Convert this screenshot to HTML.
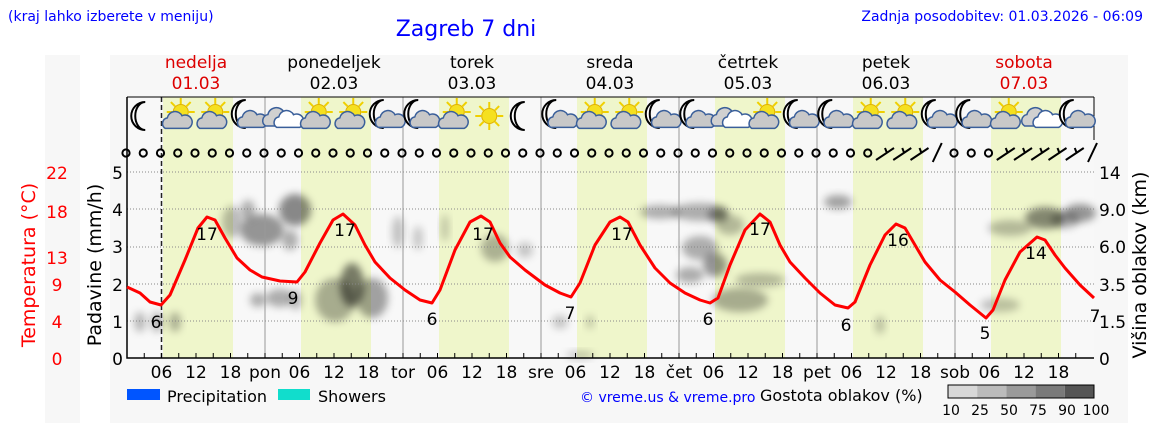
<!DOCTYPE html>
<html><head><meta charset="utf-8"><style>
body{margin:0;width:1152px;height:443px;background:#fff;overflow:hidden;font-family:"DejaVu Sans","Liberation Sans",sans-serif}
svg{position:absolute;left:0;top:0}
</style></head><body>
<svg id="s" width="1152" height="443" xmlns="http://www.w3.org/2000/svg" font-family="DejaVu Sans, Liberation Sans, sans-serif">
<defs><filter id="bl" x="-50%" y="-50%" width="200%" height="200%"><feGaussianBlur stdDeviation="4"/></filter></defs>
<rect x="45" y="55" width="35" height="368" fill="#f7f7f7"/>
<rect x="110" y="55" width="1018" height="368" fill="#f7f7f7"/>
<g id="g"></g>
<text x="8" y="21" font-size="14" fill="#0000ff">(kraj lahko izberete v meniju)</text>
<text x="466" y="36" font-size="22" fill="#0000ff" text-anchor="middle">Zagreb 7 dni</text>
<text x="1143" y="21" font-size="14" fill="#0000ff" text-anchor="end">Zadnja posodobitev: 01.03.2026 - 06:09</text>
<text transform="translate(35,265) rotate(-90)" font-size="19" fill="#ff0000" text-anchor="middle">Temperatura (°C)</text>
<text transform="translate(101,265) rotate(-90)" font-size="19" fill="#000" text-anchor="middle">Padavine (mm/h)</text>
<text transform="translate(1146,265) rotate(-90)" font-size="19" fill="#000" text-anchor="middle">Višina oblakov (km)</text>
<g font-size="17" fill="#ff0000" text-anchor="middle">
<text x="57" y="179">22</text><text x="57" y="218">18</text><text x="57" y="264">13</text><text x="57" y="291">9</text><text x="57" y="328">4</text><text x="57" y="365">0</text></g>
<g font-size="17" fill="#000" text-anchor="end">
<text x="123" y="179">5</text><text x="123" y="216">4</text><text x="123" y="253">3</text><text x="123" y="291">2</text><text x="123" y="328">1</text><text x="123" y="365">0</text></g>
<g font-size="17" fill="#000">
<text x="1099" y="179">14</text><text x="1099" y="216">9.0</text><text x="1099" y="253">6.0</text><text x="1099" y="291">3.5</text><text x="1099" y="328">1.5</text><text x="1099" y="365">0</text></g>
<rect x="127" y="389" width="33" height="11" fill="#0055ff"/>
<text x="167" y="402" font-size="16">Precipitation</text>
<rect x="278" y="389" width="32" height="11" fill="#11ddcc"/>
<text x="318" y="402" font-size="16">Showers</text>
<text x="580" y="402" font-size="14" fill="#0000ff">© vreme.us &amp; vreme.pro</text>
<text x="760" y="401" font-size="16">Gostota oblakov (%)</text>
<g id="leg"></g>
</svg>
<script>
const NS="http://www.w3.org/2000/svg";const g=document.getElementById('g');
function el(t,a,p){const e=document.createElementNS(NS,t);for(const k in a)e.setAttribute(k,a[k]);if(p!==undefined)e.textContent=p;(a._p||g).appendChild(e);return e;}
const X0=127,D=138,T=97,B=358,R=1094;
el('rect',{x:X0,y:T,width:R-X0,height:B-T,fill:'#f8f8f8'});
for(let d=0;d<7;d++){el('rect',{x:X0+d*D+36,y:T,width:70,height:B-T,fill:'#eff6cb'});}
const cl=[[232,222,10,16,.25],[248,210,7,10,.3],[262,230,22,16,.4],[295,210,16,16,.45],[290,240,8,10,.3],[258,300,8,7,.3],[280,298,14,9,.3],[296,300,6,10,.25],[140,322,6,10,.25],[157,322,6,10,.28],[175,322,6,10,.28],[335,300,20,22,.3],[352,285,12,22,.5],[372,298,16,20,.35],[398,232,6,16,.22],[418,238,5,12,.2],[445,228,4,14,.2],[495,248,14,14,.28],[525,250,8,8,.2],[560,322,8,7,.2],[590,322,4,7,.2],[580,355,14,4,.2],[660,212,20,7,.3],[700,212,28,9,.3],[718,215,10,7,.4],[700,248,18,12,.3],[715,265,12,12,.4],[690,275,14,8,.3],[740,300,28,12,.3],[760,280,25,7,.25],[730,225,14,10,.25],[838,202,14,7,.35],[880,325,5,9,.22],[1000,305,20,7,.22],[1010,228,22,8,.25],[1045,218,20,11,.45],[1080,213,16,9,.4],[1065,220,14,8,.3]];
cl.forEach(c=>el('ellipse',{cx:c[0],cy:c[1],rx:c[2],ry:c[3],fill:'#000','fill-opacity':c[4],filter:'url(#bl)'}));
[172,209,247,284,321].forEach(y=>el('line',{x1:X0,x2:R,y1:y,y2:y,stroke:'#888','stroke-dasharray':'1,2','stroke-width':1}));
for(let d=1;d<7;d++)el('line',{x1:X0+d*D,x2:X0+d*D,y1:T,y2:B,stroke:'#999','stroke-width':1});
el('line',{x1:161.5,x2:161.5,y1:T,y2:B,stroke:'#222','stroke-dasharray':'5,3','stroke-width':1.5});
el('path',{d:`M${X0} ${T}V${B}H${R}`,fill:'none',stroke:'#000','stroke-width':1.5});
el('line',{x1:X0,x2:R,y1:T,y2:T,stroke:'#000','stroke-width':1});
el('line',{x1:R,x2:R,y1:T,y2:140,stroke:'#000','stroke-width':1});
for(let k=1;k<56;k++){const x=X0+k*17.25;el('line',{x1:x,x2:x,y1:B,y2:B-5,stroke:'#000'});}
const bl=['','06','12','18'],dn=['','pon','tor','sre','čet','pet','sob'];
for(let d=0;d<7;d++){for(let h=0;h<4;h++){let t=h==0?dn[d]:bl[h];if(!t)continue;el('text',{x:X0+d*D+h*34.5,y:378,'font-size':17,'text-anchor':'middle'},t);}}
const names=['nedelja','ponedeljek','torek','sreda','četrtek','petek','sobota'];
for(let d=0;d<7;d++){const c=(d==0||d==6)?'#dd0000':'#000',x=X0+d*D+69;el('text',{x:x,y:68,'font-size':17,'text-anchor':'middle',fill:c},names[d]);el('text',{x:x,y:89,'font-size':17,'text-anchor':'middle',fill:c},'0'+(d+1)+'.03');}
const tp=[[127,287],[140,293],[150,302],[161,305],[170,295],[185,260],[198,228],[207,217],[215,220],[225,238],[237,258],[250,270],[262,277],[280,281],[297,282],[305,272],[320,243],[333,220],[343,214],[355,225],[365,245],[375,262],[390,278],[405,290],[420,300],[432,303],[440,290],[455,250],[470,222],[481,216],[490,222],[500,243],[510,257],[525,270],[545,285],[560,293],[571,297],[580,283],[595,245],[610,222],[620,217],[628,222],[640,245],[655,268],[670,283],[685,293],[700,300],[710,303],[718,298],[730,265],[745,230],[760,214],[770,222],[780,245],[790,262],[805,278],[820,293],[835,305],[848,308],[855,302],[870,265],[885,235],[896,224],[905,228],[915,245],[925,262],[940,280],[955,292],[970,305],[986,318],[993,310],[1005,280],[1020,252],[1037,237],[1045,240],[1055,255],[1065,268],[1080,285],[1094,298]];
el('path',{d:'M'+tp.map(p=>p.join(' ')).join('L'),fill:'none',stroke:'#ff0000','stroke-width':3,'stroke-linejoin':'round'});
[[156,328,'6'],[207,240,'17'],[293,304,'9'],[345,236,'17'],[432,325,'6'],[483,240,'17'],[570,319,'7'],[622,240,'17'],[708,325,'6'],[760,235,'17'],[846,331,'6'],[898,246,'16'],[985,339,'5'],[1036,259,'14'],[1095,322,'7']].forEach(l=>el('text',{x:l[0],y:l[1],'font-size':17,'text-anchor':'middle'},l[2]));
for(let k=0;k<57;k++){const x=X0+k*17.25-1;
 const isB=(k>=44&&k<=47)||(k>=51);
 if(!isB)el('circle',{cx:x,cy:153,r:3.6,fill:'none',stroke:'#000','stroke-width':2});
 else{const steep=(k==47||k==56);if(steep)el('line',{x1:x-4,y1:162,x2:x+5,y2:143,stroke:'#000','stroke-width':2});else{el('line',{x1:x-9,y1:160,x2:x+9,y2:148,stroke:'#000','stroke-width':2});el('line',{x1:x+2,y1:153,x2:x,y2:148,stroke:'#000','stroke-width':2});}}}
const ic=['m','sc','sc','mc','c','sc','sc','mc','mc','sc','s','m','mc','sc','sc','mc','mc','c','sc','mc','mc','sc','sc','mc','mc','sc','c','mc'];
function cloud(x,y,s,f){el('path',{d:`M${x-11*s} ${y+7*s}a${5.5*s} ${5.5*s} 0 0 1 ${2*s} ${-10*s}a${7.5*s} ${7.5*s} 0 0 1 ${14*s} ${-2*s}a${6.5*s} ${6.5*s} 0 0 1 ${6*s} ${12*s}z`,fill:f,stroke:'#3a5f9a','stroke-width':1.5});}
function moon(x,y){el('path',{d:`M${x+3} ${y-14}a14 14 0 1 0 0 28a10 14 0 1 1 0-28z`,fill:'#fff',stroke:'#000','stroke-width':2});}
function sun(x,y){for(let i=0;i<8;i++){const a=i*Math.PI/4;el('line',{x1:x+Math.cos(a)*8,y1:y+Math.sin(a)*8,x2:x+Math.cos(a)*14,y2:y+Math.sin(a)*14,stroke:'#f0d000','stroke-width':2});}el('circle',{cx:x,cy:y,r:7.5,fill:'#f5e020',stroke:'#e0b000'});}
ic.forEach((t,i)=>{const d=Math.floor(i/4),h=[3,9,15,21][i%4],x=X0+d*D+h*5.75,y=116;
 if(t=='m')moon(x-2,y);
 else if(t=='mc'){moon(x-5,y-2);cloud(x+4,y+4,1.05,'#c8c8c8');}
 else if(t=='s')sun(x,y);
 else if(t=='sc'){sun(x+2,y-4);cloud(x-2,y+5,1.05,'#c8c8c8');}
 else{cloud(x-4,y+2,1.15,'#d0d0d0');cloud(x+6,y+4,1.05,'#fff');}});
const lg=document.getElementById('leg');const cols=['#d8d8d8','#bbb','#9a9a9a','#7a7a7a','#555'];
cols.forEach((c,i)=>el('rect',{_p:lg,x:948+i*29.2,y:385,width:29.2,height:13,fill:c}));
el('rect',{_p:lg,x:948,y:385,width:146,height:13,fill:'none',stroke:'#000'});
['10','25','50','75','90','100'].forEach((t,i)=>el('text',{_p:lg,x:951+i*29,y:415,'font-size':14,'text-anchor':'middle'},t));
</script>
</body></html>
